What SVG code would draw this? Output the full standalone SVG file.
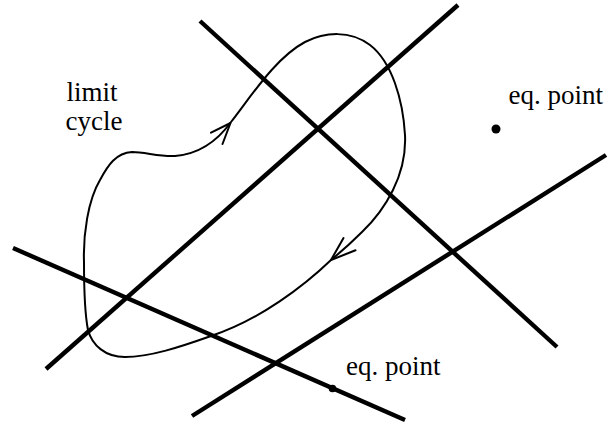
<svg xmlns="http://www.w3.org/2000/svg" width="613" height="425" viewBox="0 0 613 425">
<style>
.ln{stroke:#000;stroke-width:4.4;fill:none;stroke-linecap:butt}
.cyc{stroke:#000;stroke-width:2;fill:none;stroke-linejoin:round;stroke-linecap:round}
.lbl{font-family:"Liberation Serif","Times New Roman",serif;font-size:27px;fill:#000}
</style>
<rect width="613" height="425" fill="#fff"/>
<g id="connectors">
<line class="ln" x1="46" y1="369" x2="458" y2="5"/>
<line class="ln" x1="200" y1="21" x2="557" y2="347"/>
<line class="ln" x1="13" y1="248" x2="405" y2="420"/>
<line class="ln" x1="192" y1="416" x2="606" y2="155"/>
</g>
<g id="limit-cycle">
<path class="cyc" d="M84,262 C83,235 88,200 100,180 C108,165 116,153 132,152 C145,152 160,157 175,156 C200,154 218,140 231,122 C250,98 275,58 305,42 C325,32 350,30 370,45 C392,62 403,100 405,135 C407,175 385,210 362,232 C352,242 342,251 331,260 C305,285 260,320 211,336 C180,347 150,357 125,357 C105,357 92,345 88,330 C84,310 84,285 84,262 Z"/>
<path class="cyc" d="M211,132.7 L230.5,123 L222.5,144"/>
<path class="cyc" d="M343.5,238 L331,260 L355.5,250.3"/>
<text class="lbl" x="66.5" y="101">limit</text>
<text class="lbl" x="65.5" y="130">cycle</text>
</g>
<g id="eq-point-1">
<circle cx="496" cy="129" r="4.5" fill="#000"/>
<text class="lbl" x="508.5" y="104">eq. point</text>
</g>
<g id="eq-point-2">
<circle cx="332.5" cy="388.5" r="3.8" fill="#000"/>
<text class="lbl" x="346" y="375">eq. point</text>
</g>
</svg>
